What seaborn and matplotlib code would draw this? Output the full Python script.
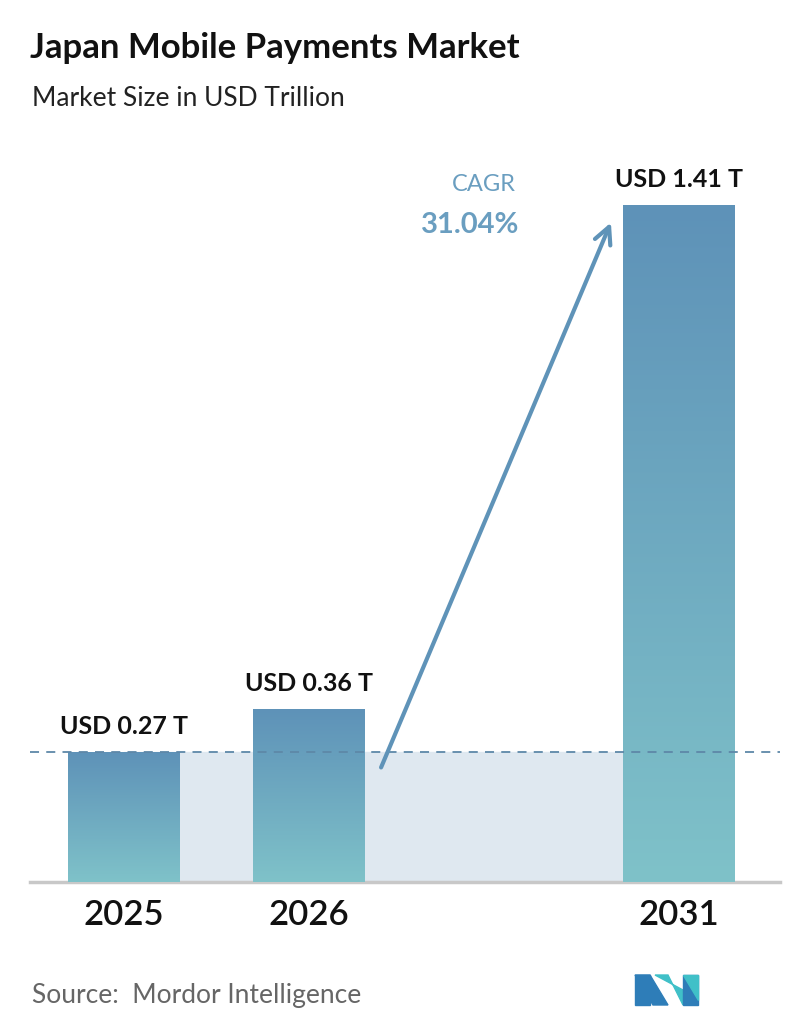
import matplotlib
matplotlib.use("Agg")
import matplotlib.pyplot as plt
import seaborn as sns
import numpy as np
import pandas as pd
from matplotlib.colors import LinearSegmentedColormap

years = ["2025", "2026", "2031"]
positions = [0, 1, 3]
values = [0.27, 0.36, 1.41]
labels = ["USD 0.27 T", "USD 0.36 T", "USD 1.41 T"]

sns.set_style("white")
plt.rcParams['font.family'] = ['Lato', 'DejaVu Sans']

fig = plt.figure(figsize=(7.96, 10.34), dpi=100)
W, H = 796, 1034
ax = fig.add_axes([30/W, 1-882/H, 750/W, 732/H])
df = pd.DataFrame({"x": positions, "y": values})
sns.barplot(data=df, x="x", y="y", native_scale=True, width=0.605, color="#6a9ec0", ax=ax, zorder=3)
ax.set_ylim(0, 1.41 * 732 / 677)

grad = np.linspace(0, 1, 256).reshape(-1, 1)
cmap = LinearSegmentedColormap.from_list("g", ["#7fc2c9", "#5e92b8"])
for p in ax.patches:
    x0, y0 = p.get_x(), p.get_y()
    w, h = p.get_width(), p.get_height()
    im = ax.imshow(grad, extent=[x0, x0 + w, y0, y0 + h], origin="lower", cmap=cmap,
                   aspect="auto", zorder=4)
    im.set_clip_path(p)
    p.set_alpha(0)

ax.fill_between([positions[0], positions[2]], 0, values[0], color="#dfe8f0", zorder=1)
ax.axhline(values[0], color="#5e88a8", ls=(0, (5, 4)), lw=1.3, zorder=5)
ax.set_xlim(-0.508, 3.546)

for x, v, l in zip(positions, values, labels):
    ax.text(x, v + 0.03, l, ha="center", va="bottom", fontsize=18, fontweight="bold", color="#111111", zorder=6)

ax.set_xticks(positions)
ax.set_xticklabels(years, fontsize=25, fontweight="semibold", color="#111111")
ax.tick_params(axis="x", length=0, pad=12)
ax.set_yticks([])
ax.set_xlabel(""); ax.set_ylabel("")
for s in ["top", "left", "right"]:
    ax.spines[s].set_visible(False)
ax.spines["bottom"].set_color("#c8c8c8")
ax.spines["bottom"].set_linewidth(2.5)

ax2 = fig.add_axes([0, 0, 1, 1], facecolor="none")
ax2.set_xlim(0, W); ax2.set_ylim(H, 0); ax2.axis("off")
ax2.annotate("", xy=(612, 220), xytext=(380, 770),
             arrowprops=dict(arrowstyle="->,head_length=1.2,head_width=0.6", color="#5f93b8", lw=3))

fig.text(484/W, 1-185/H, "CAGR", ha="center", va="center", fontsize=17, color="#6a9ec0")
fig.text(470/W, 1-225/H, "31.04%", ha="center", va="center", fontsize=21, fontweight="bold", color="#6a9ec0")

fig.text(30/W, 1-48/H, "Japan Mobile Payments Market", fontsize=25, fontweight="bold", color="#111111", va="center")
fig.text(32/W, 1-99/H, "Market Size in USD Trillion", fontsize=19, color="#222222", va="center")
fig.text(32/W, 1-996/H, "Source:  Mordor Intelligence", fontsize=19, color="#666666", va="center")

ax2.fill([635, 650, 668, 653], [975, 975, 1005, 1005], color="#2e7db8")
ax2.fill([635, 650, 650, 635], [975, 975, 1005, 1005], color="#2e7db8")
ax2.fill([655, 668, 683, 683], [975, 975, 1005, 990], color="#40c0c8")
ax2.fill([683, 698, 698, 683], [975, 975, 1005, 1005], color="#2e7db8")
ax2.fill([683, 698, 698], [975, 975, 1000], color="#40c0c8")

fig.savefig("out.png", dpi=100, facecolor="white")
